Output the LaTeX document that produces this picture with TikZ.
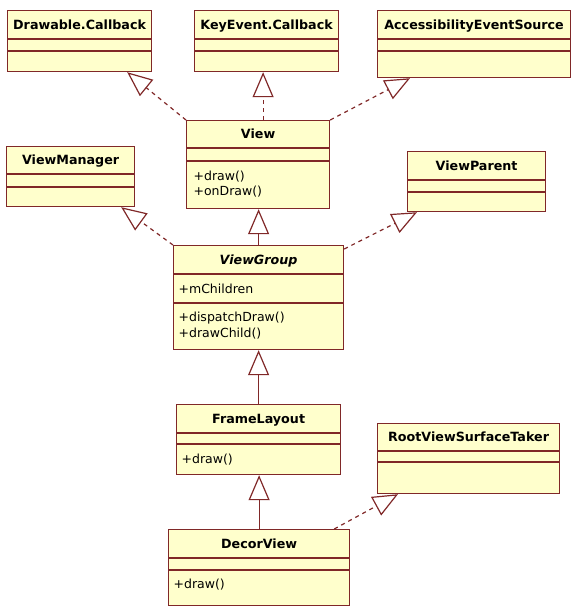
\documentclass[tikz,border=0pt]{standalone}
\usepackage{fontspec}
\setmainfont{DejaVu Sans}
\usetikzlibrary{arrows.meta}
\definecolor{umlfill}{RGB}{255,255,204}
\definecolor{umlline}{RGB}{128,40,40}
\begin{document}
\begin{tikzpicture}[x=1pt, y=-1pt, line width=1.2pt, umlline,
    cls/.style={draw=umlline, fill=umlfill, anchor=north west, inner sep=0pt},
    clsname/.style={font=\fontsize{12.7}{15}\selectfont\bfseries, text=black, text height=9.2pt, text depth=0pt, inner sep=0pt},
    member/.style={font=\fontsize{12.5}{15.5}\selectfont, text=black, anchor=base west, align=left, inner sep=0pt},
    realize/.style={dash pattern=on 4pt off 4pt, -{Triangle[open, length=25pt, width=21pt]}},
    extend/.style={-{Triangle[open, length=25pt, width=21pt]}}]
    \useasboundingbox (0,0) rectangle (578,611);
    %\draw[help lines, step=10] (0,0) grid (578,611);
    \foreach \n/\x/\y/\w/\h/\a/\b/\t in {
        drawable/7/10/144/61/29/41/Drawable.Callback,
        keyevent/194/10/144/61/29/41/KeyEvent.Callback,
        access/377/10/193/67/29/41/AccessibilityEventSource,
        view/186/120/143/88/28/41/View,
        viewmanager/6/146/128/60/28/41/ViewManager,
        viewparent/407/151/138/60/29/41/ViewParent,
        viewgroup/173/245/170/104/29/58/\textit{ViewGroup},
        framelayout/176/404/164/70/29/40/FrameLayout,
        rootview/377/423/182/70/28/39/RootViewSurfaceTaker,
        decorview/168/529/181/76/29/41/DecorView} {
      \node[cls, minimum width=\w, minimum height=\h] (\n) at (\x,\y) {};
      \draw ([yshift=-\a pt]\n.north west) -- ([yshift=-\a pt]\n.north east);
      \draw ([yshift=-\b pt]\n.north west) -- ([yshift=-\b pt]\n.north east);
      \node[clsname] (\n-name) at ([yshift=-\a*0.5pt]\n.north) {\t};}

    % base of a two line node is its last line
    \node[member] (view-ops) at (193,195.5) {+draw()\\+onDraw()};
    \node[member] (viewgroup-attr) at (178,293) {+mChildren};
    \node[member] (viewgroup-ops) at (178,337) {+dispatchDraw()\\+drawChild()};
    \node[member] (framelayout-ops) at (181,463.5) {+draw()};
    \node[member] (decorview-ops) at (173,588.5) {+draw()};

    \draw[realize] (view.north west) -- ([xshift=-25pt]drawable.south east);
    \draw[realize] ([xshift=5pt]view.north) -- ([xshift=5pt]view.north |- keyevent.south);
    \draw[realize] (view.north east) -- ([xshift=33pt]access.south west);
    \draw[extend] (viewgroup.north) -- (viewgroup.north |- view.south);
    \draw[realize] (viewgroup.north west) -- ([xshift=-14pt]viewmanager.south east);
    \draw[realize] ([yshift=-4pt]viewgroup.north east) -- ([xshift=10pt]viewparent.south west);
    \draw[extend] (framelayout.north) -- (framelayout.north |- viewgroup.south);
    \draw[extend] (decorview.north) -- (decorview.north |- framelayout.south);
    \draw[realize] ([xshift=-16pt]decorview.north east) -- ([xshift=21pt]rootview.south west);
  \end{tikzpicture}
\end{document}
